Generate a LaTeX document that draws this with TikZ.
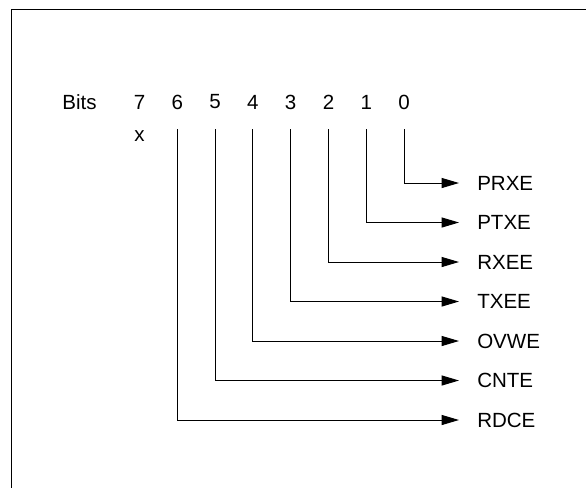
\documentclass[tikz,border=0pt]{standalone}
\usepackage{fontspec}
\setmainfont{Liberation Sans}
\usetikzlibrary{arrows.meta}

\begin{document}
\begin{tikzpicture}[x=0.75pt,y=0.75pt,yscale=-1,xscale=1,
  font=\fontsize{15.4}{18}\selectfont,
  bitno/.style={inner sep=0pt},
  flag/.style={anchor=west,inner ysep=0pt,inner xsep=13.5pt},
  tap/.style={line width=0.75pt,-{Triangle[length=13pt,width=7.5pt]}}]
\path[use as bounding box] (0,0) rectangle (586,487);

%Frame (only left and top edges show)
\draw [line width=1.1pt] (11.5,495) -- (11.5,9.5) -- (595,9.5) ;

% Text Node
\node [bitno] (bits) at (79.5,102) {Bits};
% Text Node
\node [bitno] (b7) at (139.5,102) {7};
\node [bitno] (b6) at (177.3,102) {6};
\node [bitno] (b5) at (215.1,102) {5};
\node [bitno] (b4) at (252.9,102) {4};
\node [bitno] (b3) at (290.7,102) {3};
\node [bitno] (b2) at (328.5,102) {2};
\node [bitno] (b1) at (366.3,102) {1};
\node [bitno] (b0) at (404.1,102) {0};
% Text Node
\node [bitno] (x7) at (139.5,135.7) {x};

%line tops
\coordinate (t6) at (177.3,129) ;
\coordinate (t5) at (215.1,129) ;
\coordinate (t4) at (252.9,129) ;
\coordinate (t3) at (290.7,129) ;
\coordinate (t2) at (328.5,129) ;
\coordinate (t1) at (366.3,129) ;
\coordinate (t0) at (404.1,129) ;

% Text Node
\node [flag] (prxe) at (459,183) {PRXE};
\node [flag] (ptxe) at (459,222.5) {PTXE};
\node [flag] (rxee) at (459,262) {RXEE};
\node [flag] (txee) at (459,301.5) {TXEE};
\node [flag] (ovwe) at (459,341) {OVWE};
\node [flag] (cnte) at (459,380.5) {CNTE};
\node [flag] (rdce) at (459,420) {RDCE};

%Straight Lines
\draw [tap] (t0) |- (prxe) ;
\draw [tap] (t1) |- (ptxe) ;
\draw [tap] (t2) |- (rxee) ;
\draw [tap] (t3) |- (txee) ;
\draw [tap] (t4) |- (ovwe) ;
\draw [tap] (t5) |- (cnte) ;
\draw [tap] (t6) |- (rdce) ;

\end{tikzpicture}
\end{document}
